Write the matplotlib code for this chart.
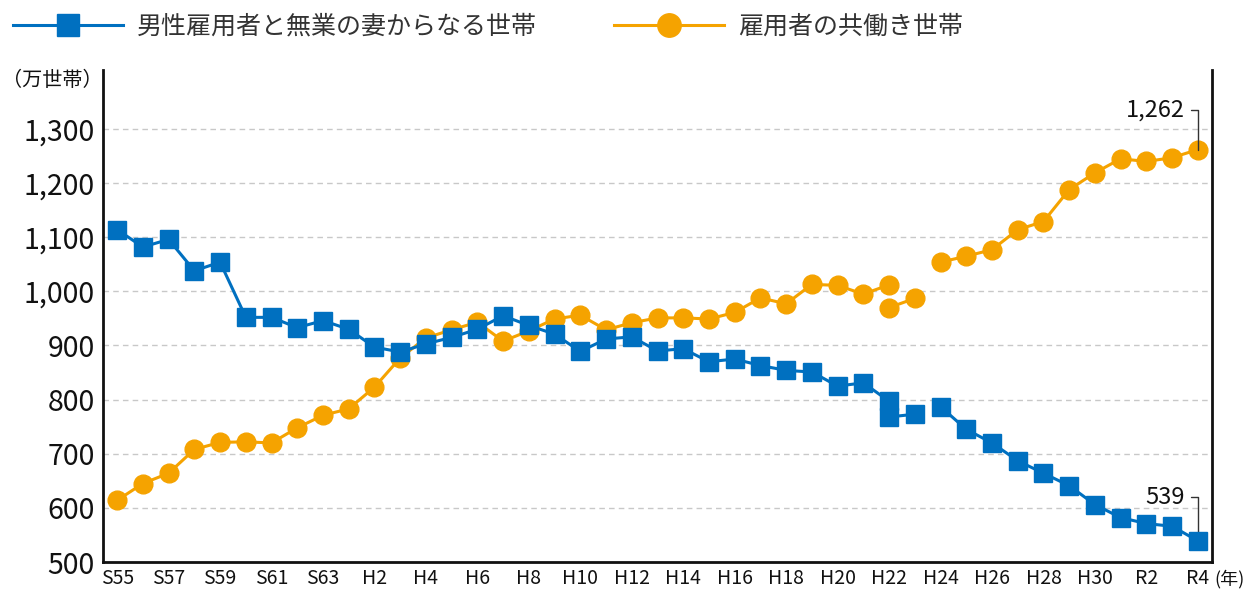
import matplotlib
matplotlib.use("Agg")
import matplotlib.pyplot as plt
import numpy as np

plt.rcParams["font.family"] = ["Noto Sans CJK JP", "DejaVu Sans"]

# 年ラベル (S55=1980 ... R4=2022)
YEAR_LABELS = (["S55", "S56", "S57", "S58", "S59", "S60", "S61", "S62", "S63"]
               + [f"H{i}" for i in range(1, 31)] + ["R1", "R2", "R3", "R4"])

# 男性雇用者と無業の妻からなる世帯 (万世帯) 1980-2022
SENGYO = [1114, 1082, 1096, 1038, 1054, 952, 952, 933, 946, 930,
          897, 888, 903, 915, 930, 955, 937, 921, 889, 912,
          916, 890, 894, 870, 875, 863, 854, 851, 825, 831,
          797, 773, 787, 745, 720, 687, 664, 641, 606, 582,
          571, 566, 539]
SENGYO_2010_ALT = 768  # 岩手・宮城・福島を除く

# 雇用者の共働き世帯 (万世帯) 1980-2022
TOMO = [614, 645, 664, 708, 721, 722, 720, 748, 771, 783,
        823, 877, 914, 929, 943, 908, 927, 949, 956, 929,
        942, 951, 951, 949, 961, 988, 977, 1013, 1011, 995,
        1012, 987, 1054, 1065, 1077, 1114, 1129, 1188, 1219, 1245,
        1240, 1247, 1262]
TOMO_2010_ALT = 970

BLUE = "#0070C0"
ORANGE = "#F5A300"


def split_series(vals, alt):
    # 2010 で系列が切れる: [1980..2010], [2010(alt), 2011], [2012..2022]
    idx = np.arange(len(vals), dtype=float)
    v = np.array(vals, dtype=float)
    xs = np.concatenate([idx[:31], [np.nan], [30, 31], [np.nan], idx[32:]])
    ys = np.concatenate([v[:31], [np.nan], [alt, v[31]], [np.nan], v[32:]])
    return xs, ys


fig = plt.figure(figsize=(12.44, 5.92), dpi=100)
ax = fig.add_axes([103 / 1244, 1 - 562 / 592, (1212 - 103) / 1244, (562 - 70) / 592])

xo, yo = split_series(TOMO, TOMO_2010_ALT)
xb, yb = split_series(SENGYO, SENGYO_2010_ALT)
ax.plot(xo, yo, "-o", color=ORANGE, lw=2.2, markersize=13.5, zorder=3,
        label="雇用者の共働き世帯")
ax.plot(xb, yb, "-s", color=BLUE, lw=2.2, markersize=13, zorder=4,
        label="男性雇用者と無業の妻からなる世帯")

ax.set_xlim(-0.55, 42.55)
ax.set_ylim(500, 1409)
ax.set_yticks(range(500, 1301, 100))
ax.set_yticklabels([f"{v:,}" for v in range(500, 1301, 100)], fontsize=20.5)
ax.set_xticks(range(0, 43, 2))
ax.set_xticklabels([YEAR_LABELS[i] for i in range(0, 43, 2)], fontsize=14)
ax.tick_params(axis="both", length=0, pad=6, colors="#111")
ax.tick_params(axis="x", pad=4)
for y in range(600, 1301, 100):
    ax.axhline(y, color="#c8c8c8", lw=1, ls=(0, (4, 3)), zorder=1)

ax.spines["top"].set_visible(False)
for s in ("left", "bottom", "right"):
    ax.spines[s].set_linewidth(2)
    ax.spines[s].set_color("#111")

# 最新値の注記
n = len(TOMO) - 1
for val, ty in ((TOMO[n], 1335), (SENGYO[n], 620)):
    ax.annotate(f"{val:,}", xy=(n, val), xytext=(n - 0.5, ty),
                ha="right", va="center", fontsize=17, color="#111",
                arrowprops=dict(arrowstyle="-", color="#333", lw=1,
                                connectionstyle="angle,angleA=0,angleB=90,rad=0",
                                shrinkA=2, shrinkB=0))

fig.text(2 / 1244, 1 - 80 / 592, "（万世帯）", fontsize=14.5, va="center", ha="left", color="#111")
fig.text(1214 / 1244, 1 - 579 / 592, "(年)", fontsize=13, va="center", ha="left", color="#111")

h, l = ax.get_legend_handles_labels()
fig.legend(h[::-1], l[::-1], loc="center left", bbox_to_anchor=(8 / 1244, 1 - 27 / 592),
           ncol=2, frameon=False, fontsize=18, handlelength=4.4, handletextpad=0.55,
           columnspacing=3.1, labelcolor="#333", borderaxespad=0, borderpad=0.2,
           markerscale=1.25)

fig.savefig("out.png", dpi=100)
